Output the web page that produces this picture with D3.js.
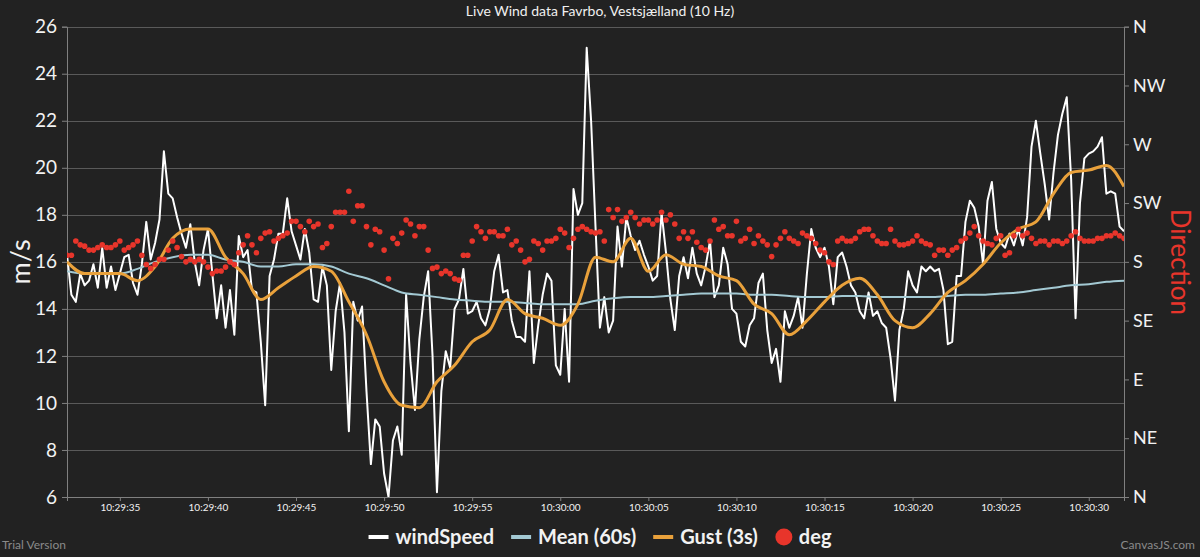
<!DOCTYPE html>
<html>
<head>
<meta charset="utf-8">
<script src="https://cdn.jsdelivr.net/npm/d3@7"></script>
<style>
  html, body { margin: 0; padding: 0; background: #222222; }
  svg { display: block; }
  text { font-family: Lato, "Open Sans", sans-serif; }
</style>
</head>
<body>
<svg id="chart" width="1200" height="557"></svg>
<script>
// wind speed, 4 samples per second (m/s)
var windSpeed = [
  16.3, 14.6, 14.3, 15.5, 15.0, 15.2, 15.9, 14.9, 16.6, 14.9,
  15.8, 14.8, 15.5, 16.2, 16.3, 15.1, 14.6, 15.9, 17.7, 16.1,
  16.8, 17.8, 20.7, 18.9, 18.7, 17.9, 17.2, 16.6, 17.6, 16.0,
  15.0, 16.5, 17.4, 15.5, 13.6, 15.0, 13.2, 14.8, 12.9, 17.1,
  16.2, 16.5, 14.8, 14.7, 12.6, 9.9, 15.4, 16.1, 17.2, 17.2,
  18.7, 17.3, 16.7, 16.1, 17.4, 16.4, 14.4, 14.3, 15.8, 15.0,
  11.4, 13.9, 15.1, 13.0, 8.8, 14.3, 13.5, 14.1, 10.5, 7.4,
  9.3, 9.0, 7.0, 6.0, 8.4, 9.0, 7.8, 14.6, 11.7, 9.7,
  12.7, 14.5, 15.6, 12.0, 6.2, 10.5, 12.2, 11.5, 14.0, 14.4,
  15.7, 13.8, 13.9, 14.3, 13.6, 13.3, 14.0, 15.6, 16.3, 14.7,
  14.8, 13.5, 12.8, 12.8, 12.6, 15.6, 11.7, 13.3, 14.6, 15.5,
  15.2, 11.6, 11.2, 14.0, 10.9, 19.1, 18.0, 18.5, 25.1, 22.0,
  17.5, 13.2, 14.5, 13.0, 13.5, 17.5, 15.8, 17.9, 17.1, 16.5,
  16.9, 16.3, 15.8, 15.2, 15.4, 18.1, 16.4, 14.4, 13.1, 15.4,
  16.2, 15.3, 16.6, 15.5, 15.0, 15.8, 16.9, 14.5, 15.0, 16.6,
  15.9, 14.0, 13.8, 12.6, 12.4, 13.3, 13.6, 15.1, 15.5, 13.1,
  11.7, 12.3, 10.9, 13.9, 13.2, 13.7, 14.5, 13.2, 15.5, 17.4,
  16.6, 16.2, 16.6, 15.8, 14.2, 16.2, 16.4, 15.8, 15.0, 14.7,
  13.9, 13.6, 14.7, 13.7, 13.9, 13.4, 13.2, 11.9, 10.1, 13.1,
  14.0, 15.6, 15.0, 14.7, 15.8, 15.6, 15.8, 15.6, 15.7, 14.8,
  12.5, 12.6, 15.4, 15.4, 17.7, 18.6, 18.3, 17.5, 15.9, 18.6,
  19.4, 17.4, 16.8, 16.6, 17.2, 16.7, 17.4, 16.7, 17.9, 20.9,
  22.0, 20.6, 19.3, 17.8, 19.8, 21.4, 22.3, 23.0, 19.5, 13.6,
  18.5, 20.4, 20.6, 20.7, 20.9, 21.3, 18.9, 19.0, 18.9, 17.5,
  17.3
];

// wind direction, same samples (degrees)
var windDeg = [
  185, 185, 196, 193, 192, 189, 189, 191, 193, 191,
  191, 193, 196, 189, 191, 193, 196, 185, 178, 175,
  178, 182, 182, 189, 196, 191, 184, 180, 182, 180,
  182, 180, 176, 171, 173, 173, 176, 180, 178, 187,
  193, 200, 193, 187, 198, 202, 203, 196, 198, 200,
  202, 211, 211, 207, 203, 211, 207, 209, 191, 194,
  207, 218, 218, 218, 234, 211, 223, 223, 207, 193,
  205, 203, 189, 167, 198, 194, 202, 212, 209, 200,
  207, 207, 189, 175, 176, 171, 173, 171, 167, 166,
  185, 185, 196, 207, 203, 198, 203, 203, 200, 200,
  205, 193, 196, 189, 180, 182, 196, 194, 189, 196,
  196, 198, 205, 202, 191, 198, 205, 207, 205, 203,
  202, 203, 196, 220, 214, 220, 211, 214, 218, 214,
  209, 212, 212, 209, 212, 218, 212, 216, 209, 198,
  203, 198, 203, 195, 191, 189, 196, 212, 205, 207,
  200, 200, 211, 196, 198, 205, 194, 200, 196, 193,
  184, 193, 198, 203, 198, 196, 194, 202, 200, 198,
  194, 189, 187, 180, 178, 196, 198, 196, 196, 198,
  203, 205, 205, 200, 196, 194, 194, 205, 196, 193,
  193, 194, 196, 200, 196, 194, 193, 185, 189, 189,
  185, 189, 191, 196, 198, 202, 207, 200, 196, 194,
  193, 198, 200, 185, 187, 200, 205, 200, 202, 198,
  194, 196, 196, 193, 196, 196, 194, 196, 200, 203,
  198, 196, 196, 196, 198, 198, 200, 200, 202, 200,
  198
];

// gust (3s) and mean (60s), one value per second (m/s)
var gust3s = [
  16.0, 15.5, 15.5, 15.5, 15.2, 15.8, 17.0, 17.4, 17.4, 16.2,
  15.5, 14.4, 14.9, 15.4, 15.8, 15.6, 14.3, 12.9, 10.9, 9.9,
  9.8, 10.9, 11.6, 12.6, 13.1, 14.4, 13.8, 13.6, 13.3, 14.2,
  16.2, 16.0, 17.0, 15.6, 16.3, 15.9, 15.8, 15.4, 15.2, 14.2,
  13.8, 12.9, 13.5, 14.3, 15.0, 15.3, 14.6, 13.5, 13.2, 13.8,
  14.7, 15.2, 15.9, 16.8, 17.4, 17.7, 18.9, 19.8, 19.9, 20.1,
  19.2
];

var mean60s = [
  15.6, 15.5, 15.5, 15.5, 15.7, 16.0, 16.2, 16.3, 16.3, 16.1,
  16.0, 15.8, 15.8, 15.9, 15.9, 15.8, 15.5, 15.3, 15.0, 14.7,
  14.6, 14.5, 14.4, 14.35, 14.3, 14.3, 14.25, 14.2, 14.2, 14.2,
  14.35, 14.45, 14.5, 14.5, 14.55, 14.6, 14.65, 14.65, 14.65, 14.6,
  14.6, 14.55, 14.5, 14.5, 14.55, 14.55, 14.5, 14.5, 14.5, 14.5,
  14.55, 14.6, 14.6, 14.65, 14.7, 14.8, 14.9, 15.0, 15.05, 15.15,
  15.2
];

var speedTicks = [6, 8, 10, 12, 14, 16, 18, 20, 22, 24, 26];
var dirTickDeg = [0, 45, 90, 135, 180, 225, 270, 315, 360];
var dirTickLabels = ['N', 'NE', 'E', 'SE', 'S', 'SW', 'W', 'NW', 'N'];

var seriesNames = ['windSpeed', 'Mean (60s)', 'Gust (3s)', 'deg'];
var seriesColors = ['#ffffff', '#a3c9d3', '#e9a13b', '#e8352b'];

var startTime = new Date(2020, 0, 1, 10, 29, 32);
var fastStep = 250;   // ms between windSpeed/deg samples
var slowStep = 1000;  // ms between gust/mean samples

function toPoints(values, step) {
  return values.map(function(v, i) {
    return { t: new Date(startTime.getTime() + i * step), v: v };
  });
}

var speedPts = toPoints(windSpeed, fastStep);
var degPts = toPoints(windDeg, fastStep);
var gustPts = toPoints(gust3s, slowStep);
var meanPts = toPoints(mean60s, slowStep);

// plot box (window.top is read-only, so no "top" here)
var plotLeft = 67, plotRight = 1124, plotTop = 26.7, plotBottom = 497;

var svg = d3.select('#chart');
svg.append('rect').attr('width', 1200).attr('height', 557).attr('fill', '#222222');

var x = d3.scaleTime()
  .domain([startTime, new Date(startTime.getTime() + 60000)])
  .range([plotLeft, plotRight]);
var y = d3.scaleLinear().domain([6, 26]).range([plotBottom, plotTop]);
var yDir = d3.scaleLinear().domain([0, 360]).range([plotBottom, plotTop]);

// title
svg.append('text')
  .attr('x', 600).attr('y', 16)
  .attr('text-anchor', 'middle')
  .attr('fill', '#f0f0f0')
  .attr('font-size', 14)
  .text('Live Wind data Favrbo, Vestsjælland (10 Hz)');

// grid
svg.append('g').selectAll('line')
  .data(speedTicks)
  .enter().append('line')
  .attr('x1', plotLeft).attr('x2', plotRight)
  .attr('y1', function(d) { return Math.round(y(d)) + 0.5; })
  .attr('y2', function(d) { return Math.round(y(d)) + 0.5; })
  .attr('stroke', '#5a5a5a')
  .attr('stroke-width', 1);

// left axis
var leftAxis = d3.axisLeft(y).tickValues(speedTicks).tickSize(5).tickPadding(5);
var gL = svg.append('g').attr('transform', 'translate(' + plotLeft + ',0)').call(leftAxis);
gL.select('.domain').attr('stroke', '#808080');
gL.selectAll('.tick line').attr('stroke', '#808080');
gL.selectAll('.tick text')
  .attr('fill', '#f2f2f2')
  .attr('font-size', 19)
  .attr('font-family', 'Lato, sans-serif');

// right axis
var rightAxis = d3.axisRight(yDir).tickValues(dirTickDeg)
  .tickFormat(function(d, i) { return dirTickLabels[i]; })
  .tickSize(5).tickPadding(4);
var gR = svg.append('g').attr('transform', 'translate(' + plotRight + ',0)').call(rightAxis);
gR.select('.domain').attr('stroke', '#808080');
gR.selectAll('.tick line').attr('stroke', '#808080');
gR.selectAll('.tick text')
  .attr('fill', '#f2f2f2')
  .attr('font-size', 18)
  .attr('font-family', 'Lato, sans-serif');

// bottom axis
var bottomAxis = d3.axisBottom(x)
  .ticks(d3.timeSecond.every(5))
  .tickFormat(d3.timeFormat('%H:%M:%S'))
  .tickSize(4).tickPadding(3);
var gB = svg.append('g').attr('transform', 'translate(0,' + plotBottom + ')').call(bottomAxis);
gB.select('.domain').attr('stroke', '#808080');
gB.selectAll('.tick line').attr('stroke', '#808080');
gB.selectAll('.tick text')
  .attr('fill', '#f2f2f2')
  .attr('font-size', 10)
  .attr('font-family', 'Lato, sans-serif');

// axis titles
svg.append('text')
  .attr('transform', 'translate(30,' + y(16) + ') rotate(-90)')
  .attr('text-anchor', 'middle')
  .attr('fill', '#f2f2f2')
  .attr('font-size', 27)
  .text('m/s');

svg.append('text')
  .attr('transform', 'translate(1171,' + y(16) + ') rotate(90)')
  .attr('text-anchor', 'middle')
  .attr('fill', seriesColors[3])
  .attr('font-size', 26)
  .text('Direction');

// clip to plot area
svg.append('clipPath').attr('id', 'plotclip')
  .append('rect').attr('x', plotLeft).attr('y', plotTop - 2)
  .attr('width', plotRight - plotLeft).attr('height', plotBottom - plotTop + 2);

var plot = svg.append('g').attr('clip-path', 'url(#plotclip)');

var speedLine = d3.line()
  .x(function(d) { return x(d.t); })
  .y(function(d) { return y(d.v); });

var smoothLine = d3.line()
  .x(function(d) { return x(d.t); })
  .y(function(d) { return y(d.v); })
  .curve(d3.curveMonotoneX);

plot.append('path')
  .datum(speedPts)
  .attr('d', speedLine)
  .attr('fill', 'none')
  .attr('stroke', seriesColors[0])
  .attr('stroke-width', 2)
  .attr('stroke-linejoin', 'round');

plot.append('path')
  .datum(meanPts)
  .attr('d', smoothLine)
  .attr('fill', 'none')
  .attr('stroke', seriesColors[1])
  .attr('stroke-width', 2);

plot.append('path')
  .datum(gustPts)
  .attr('d', smoothLine)
  .attr('fill', 'none')
  .attr('stroke', seriesColors[2])
  .attr('stroke-width', 3)
  .attr('stroke-linejoin', 'round');

plot.append('g').selectAll('circle')
  .data(degPts)
  .enter().append('circle')
  .attr('cx', function(d) { return x(d.t); })
  .attr('cy', function(d) { return yDir(d.v); })
  .attr('r', 2.8)
  .attr('fill', seriesColors[3]);

// legend, laid out left to right then centred
var legend = svg.append('g');
var cursor = 0;
seriesNames.forEach(function(name, i) {
  var item = legend.append('g').attr('transform', 'translate(' + cursor + ',0)');
  if (i === 3) {
    item.append('circle').attr('cx', 9).attr('cy', 0).attr('r', 8.5).attr('fill', seriesColors[i]);
  } else {
    item.append('line').attr('x1', 0).attr('x2', 20).attr('y1', 0).attr('y2', 0)
      .attr('stroke', seriesColors[i]).attr('stroke-width', 4);
  }
  var label = item.append('text')
    .attr('x', i === 3 ? 24 : 27).attr('y', 7)
    .attr('fill', '#f2f2f2')
    .attr('font-size', 20)
    .attr('font-weight', 'bold')
    .text(name);
  cursor += (i === 3 ? 24 : 27) + label.node().getComputedTextLength() + 17;
});
var legendWidth = cursor - 17;
legend.attr('transform', 'translate(' + (600 - legendWidth / 2) + ',537)');

// footer texts
svg.append('text')
  .attr('x', 2).attr('y', 549)
  .attr('fill', '#8a8a8a')
  .attr('font-size', 12)
  .text('Trial Version');

svg.append('text')
  .attr('x', 1195).attr('y', 549)
  .attr('text-anchor', 'end')
  .attr('fill', '#8a8a8a')
  .attr('font-size', 12)
  .text('CanvasJS.com');
</script>
</body>
</html>
